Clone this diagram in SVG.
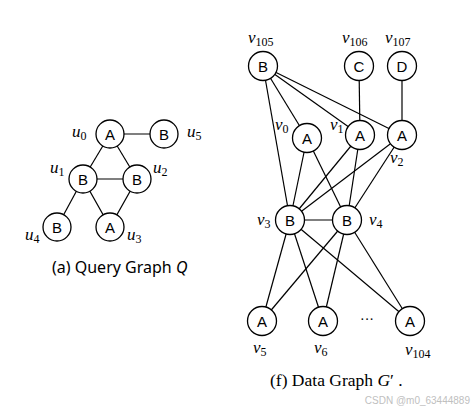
<svg xmlns="http://www.w3.org/2000/svg" width="476" height="414" viewBox="0 0 476 414">
<style>
.n circle{fill:#fff;stroke:#000;stroke-width:1.3}
.n text{font-family:"Liberation Sans",Arial,sans-serif;font-size:15px;text-anchor:middle;dominant-baseline:central;fill:#000}
.e line{stroke:#000;stroke-width:1.2}
.lb{font-family:"Liberation Serif","Times New Roman",serif;font-style:italic;font-size:17px;fill:#000}
.lb tspan.s{font-style:normal;font-size:12px}
.cap{font-family:"Noto Sans","Open Sans",sans-serif;font-size:16px;fill:#000}
.capf{font-family:"Liberation Serif","Times New Roman",serif;font-size:17.5px;fill:#000}
</style>
<rect width="476" height="414" fill="#fff"/>
<g id="edges" class="e">
<line x1="110" y1="134" x2="164" y2="134"/>
<line x1="110" y1="134" x2="83" y2="179"/>
<line x1="110" y1="134" x2="137" y2="179"/>
<line x1="83" y1="179" x2="137" y2="179"/>
<line x1="83" y1="179" x2="57" y2="227"/>
<line x1="83" y1="179" x2="110" y2="227"/>
<line x1="137" y1="179" x2="110" y2="227"/>
<line x1="263" y1="66" x2="307" y2="138"/>
<line x1="263" y1="66" x2="360" y2="135"/>
<line x1="263" y1="66" x2="402" y2="135"/>
<line x1="263" y1="66" x2="290" y2="220"/>
<line x1="359" y1="66" x2="360" y2="135"/>
<line x1="402" y1="66" x2="402" y2="135"/>
<line x1="307" y1="138" x2="290" y2="220"/>
<line x1="307" y1="138" x2="347" y2="220"/>
<line x1="360" y1="135" x2="290" y2="220"/>
<line x1="360" y1="135" x2="347" y2="220"/>
<line x1="402" y1="135" x2="290" y2="220"/>
<line x1="402" y1="135" x2="347" y2="220"/>
<line x1="290" y1="220" x2="347" y2="220"/>
<line x1="290" y1="220" x2="262" y2="321"/>
<line x1="290" y1="220" x2="323" y2="321"/>
<line x1="290" y1="220" x2="410" y2="321"/>
<line x1="347" y1="220" x2="262" y2="321"/>
<line x1="347" y1="220" x2="323" y2="321"/>
<line x1="347" y1="220" x2="410" y2="321"/>
</g>
<g id="u0" class="n"><circle cx="110" cy="134" r="14"/><text x="110" y="134">A</text></g>
<g id="u5" class="n"><circle cx="164" cy="134" r="14"/><text x="164" y="134">B</text></g>
<g id="u1" class="n"><circle cx="83" cy="179" r="14"/><text x="83" y="179">B</text></g>
<g id="u2" class="n"><circle cx="137" cy="179" r="14"/><text x="137" y="179">B</text></g>
<g id="u4" class="n"><circle cx="57" cy="227" r="14"/><text x="57" y="227">B</text></g>
<g id="u3" class="n"><circle cx="110" cy="227" r="14"/><text x="110" y="227">A</text></g>
<g id="v105" class="n"><circle cx="263" cy="66" r="14.5"/><text x="263" y="66">B</text></g>
<g id="v106" class="n"><circle cx="359" cy="66" r="14.5"/><text x="359" y="66">C</text></g>
<g id="v107" class="n"><circle cx="402" cy="66" r="14.5"/><text x="402" y="66">D</text></g>
<g id="v0" class="n"><circle cx="307" cy="138" r="14.5"/><text x="307" y="138">A</text></g>
<g id="v1" class="n"><circle cx="360" cy="135" r="14.5"/><text x="360" y="135">A</text></g>
<g id="v2" class="n"><circle cx="402" cy="135" r="14.5"/><text x="402" y="135">A</text></g>
<g id="v3" class="n"><circle cx="290" cy="220" r="14.5"/><text x="290" y="220">B</text></g>
<g id="v4" class="n"><circle cx="347" cy="220" r="14.5"/><text x="347" y="220">B</text></g>
<g id="v5" class="n"><circle cx="262" cy="321" r="14.5"/><text x="262" y="321">A</text></g>
<g id="v6" class="n"><circle cx="323" cy="321" r="14.5"/><text x="323" y="321">A</text></g>
<g id="v104" class="n"><circle cx="410" cy="321" r="14.5"/><text x="410" y="321">A</text></g>
<g id="labels">
<text class="lb" x="72" y="137">u<tspan class="s" dy="3">0</tspan></text>
<text class="lb" x="187" y="137">u<tspan class="s" dy="3">5</tspan></text>
<text class="lb" x="50" y="173">u<tspan class="s" dy="3">1</tspan></text>
<text class="lb" x="153" y="173">u<tspan class="s" dy="3">2</tspan></text>
<text class="lb" x="25" y="240">u<tspan class="s" dy="3">4</tspan></text>
<text class="lb" x="127" y="240">u<tspan class="s" dy="3">3</tspan></text>
<text class="lb" x="248" y="43">v<tspan class="s" dy="3">105</tspan></text>
<text class="lb" x="342" y="43">v<tspan class="s" dy="3">106</tspan></text>
<text class="lb" x="385" y="43">v<tspan class="s" dy="3">107</tspan></text>
<text class="lb" x="275" y="130">v<tspan class="s" dy="3">0</tspan></text>
<text class="lb" x="330" y="130">v<tspan class="s" dy="3">1</tspan></text>
<text class="lb" x="390" y="163">v<tspan class="s" dy="3">2</tspan></text>
<text class="lb" x="257" y="225">v<tspan class="s" dy="3">3</tspan></text>
<text class="lb" x="369" y="225">v<tspan class="s" dy="3">4</tspan></text>
<text class="lb" x="253" y="353">v<tspan class="s" dy="3">5</tspan></text>
<text class="lb" x="314" y="353">v<tspan class="s" dy="3">6</tspan></text>
<text class="lb" x="405" y="355">v<tspan class="s" dy="3">104</tspan></text>
<text x="367" y="324" font-family="Liberation Serif,serif" font-size="14" text-anchor="middle">···</text>
<text class="cap" x="52" y="273">(a) Query Graph <tspan font-style="italic">Q</tspan></text>
<text class="capf" x="270" y="386">(f) Data Graph <tspan font-style="italic">G</tspan>′ .</text>
<text x="470" y="404" font-family="Liberation Sans,Arial,sans-serif" font-size="10" fill="#c0c0c0" text-anchor="end">CSDN @m0_63444889</text>
</g>
</svg>
